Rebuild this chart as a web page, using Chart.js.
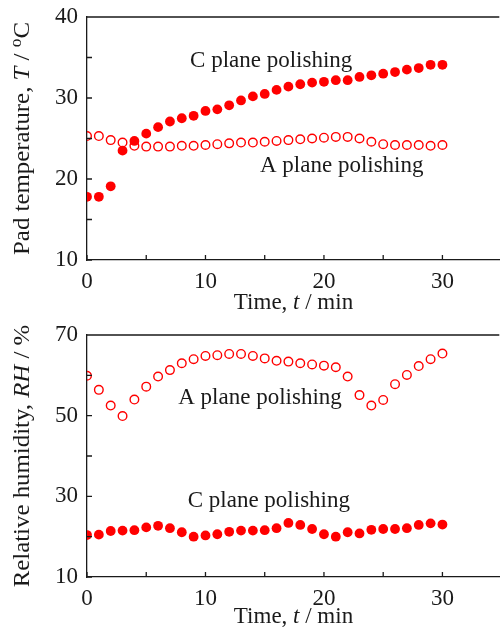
<!DOCTYPE html>
<html>
<head>
<meta charset="utf-8">
<script src="https://cdn.jsdelivr.net/npm/chart.js@4/dist/chart.umd.min.js"></script>
<style>
  body { margin: 0; background: #fff; overflow: hidden; }
  .box { position: absolute; left: 0; width: 505px; }
  #topBox { top: 0; height: 320px; }
  #botBox { top: 320px; height: 309px; }
</style>
</head>
<body>
<div class="box" id="topBox"><canvas id="tempChart"></canvas></div>
<div class="box" id="botBox"><canvas id="rhChart"></canvas></div>
<script>
// time in minutes
const time = [0, 1, 2, 3, 4, 5, 6, 7, 8, 9, 10, 11, 12, 13, 14, 15, 16, 17, 18, 19, 20, 21, 22, 23, 24, 25, 26, 27, 28, 29, 30];

// pad temperature (degC)
const tempC = [17.8, 17.8, 19.1, 23.5, 24.7, 25.6, 26.4, 27.1, 27.5, 27.8, 28.4, 28.6, 29.1, 29.7, 30.2, 30.5, 31.0, 31.4, 31.7, 31.9, 32.0, 32.2, 32.2, 32.6, 32.8, 33.0, 33.2, 33.5, 33.7, 34.1, 34.1];
const tempA = [25.3, 25.3, 24.8, 24.5, 24.1, 24.0, 24.0, 24.0, 24.1, 24.1, 24.2, 24.3, 24.4, 24.5, 24.5, 24.6, 24.7, 24.8, 24.9, 25.0, 25.1, 25.2, 25.2, 25.0, 24.6, 24.3, 24.2, 24.2, 24.2, 24.1, 24.2];

// relative humidity (%)
const rhA = [59.9, 56.4, 52.5, 49.9, 54.0, 57.2, 59.7, 61.3, 63.0, 64.0, 64.8, 65.0, 65.3, 65.3, 64.8, 64.2, 63.6, 63.4, 63.0, 62.7, 62.4, 62.0, 59.7, 55.1, 52.5, 53.9, 57.8, 60.1, 62.3, 64.0, 65.4];
const rhC = [20.4, 20.5, 21.4, 21.5, 21.6, 22.3, 22.7, 22.1, 21.1, 20.0, 20.3, 20.6, 21.2, 21.5, 21.5, 21.6, 22.1, 23.4, 22.9, 21.9, 20.6, 20.0, 21.1, 20.8, 21.7, 21.9, 21.9, 22.1, 22.9, 23.3, 23.0];

// labelled ticks
const timeLabels = [0, 10, 20, 30];
const tempLabels = [10, 20, 30, 40];
const rhLabels = [10, 30, 50, 70];

// in-plot labels, placed in data units
const tempNotes = [
  { text: 'C plane polishing', x: 8.7, y: 34.6 },
  { text: 'A plane polishing', x: 14.6, y: 21.6 }
];
const rhNotes = [
  { text: 'A plane polishing', x: 7.7, y: 54.5 },
  { text: 'C plane polishing', x: 8.5, y: 28.9 }
];

const RED = '#ff0000';
const INK = '#1a1a1a';
const FONT = 'Liberation Serif';

Chart.defaults.font.family = FONT;
Chart.defaults.font.size = 23;
Chart.defaults.color = INK;

function xy(ys) {
  return time.map((t, i) => ({ x: t, y: ys[i] }));
}

function drawRich(ctx, parts, size) {
  let w = 0;
  const widths = parts.map(p => {
    ctx.font = (p.italic ? 'italic ' : '') + (p.sup ? size * 0.7 : size) + 'px "' + FONT + '"';
    const m = ctx.measureText(p.t).width;
    w += m;
    return m;
  });
  let x = -w / 2;
  parts.forEach((p, i) => {
    ctx.font = (p.italic ? 'italic ' : '') + (p.sup ? size * 0.7 : size) + 'px "' + FONT + '"';
    ctx.fillText(p.t, x, p.sup ? -size * 0.28 : 0);
    x += widths[i];
  });
}

const frame = {
  id: 'frame',
  afterDraw(chart, args, opts) {
    const { ctx, chartArea: a, scales: { x, y } } = chart;
    ctx.save();
    ctx.strokeStyle = INK;
    ctx.lineWidth = 1.3;
    ctx.beginPath();
    ctx.moveTo(a.left, a.top);
    ctx.lineTo(a.right, a.top);
    x.ticks.forEach(t => {
      const px = x.getPixelForValue(t.value);
      ctx.moveTo(px, a.bottom);
      ctx.lineTo(px, a.bottom - 5);
    });
    y.ticks.forEach(t => {
      const py = y.getPixelForValue(t.value);
      ctx.moveTo(a.left, py);
      ctx.lineTo(a.left + 5, py);
    });
    ctx.stroke();

    ctx.fillStyle = INK;
    ctx.textBaseline = 'middle';
    ctx.textAlign = 'left';
    ctx.font = '23px "' + FONT + '"';
    opts.notes.forEach(n => {
      ctx.fillText(n.text, x.getPixelForValue(n.x), y.getPixelForValue(n.y));
    });

    // x title centred on the visible part of the plot
    ctx.save();
    ctx.translate((a.left + 500) / 2, a.bottom + opts.xGap);
    drawRich(ctx, opts.xTitle, 23);
    ctx.restore();

    ctx.save();
    ctx.translate(23, (a.top + a.bottom) / 2);
    ctx.rotate(-Math.PI / 2);
    ctx.scale(1.08, 1);
    drawRich(ctx, opts.yTitle, 23);
    ctx.restore();

    ctx.restore();
  }
};

function makeChart(id, cfg) {
  return new Chart(document.getElementById(id), {
    type: 'scatter',
    data: {
      datasets: [{
        data: xy(cfg.open),
        pointStyle: 'circle',
        pointRadius: 4.3,
        pointBorderWidth: 1.4,
        borderColor: RED,
        backgroundColor: 'rgba(255,255,255,0)'
      }, {
        data: xy(cfg.filled),
        pointStyle: 'circle',
        pointRadius: 4.9,
        pointBorderWidth: 0,
        borderColor: RED,
        backgroundColor: RED
      }]
    },
    options: {
      responsive: true,
      maintainAspectRatio: false,
      animation: false,
      layout: { padding: { top: cfg.top, right: 0, left: 0, bottom: 0 } },
      plugins: {
        legend: { display: false },
        tooltip: { enabled: false },
        frame: { notes: cfg.notes, xTitle: cfg.xTitle, yTitle: cfg.yTitle, xGap: cfg.xGap }
      },
      scales: {
        x: {
          type: 'linear',
          min: 0,
          max: 34.8,
          grid: { display: false, drawTicks: false },
          border: { display: true, color: INK, width: 1.3 },
          ticks: {
            stepSize: 5,
            includeBounds: false,
            autoSkip: false,
            maxRotation: 0,
            padding: 8,
            callback: v => timeLabels.includes(v) ? String(v) : ''
          },
          afterFit: s => { s.height = cfg.xHeight; s.paddingLeft = 0; s.paddingRight = 0; }
        },
        y: {
          min: cfg.min,
          max: cfg.max,
          grid: { display: false, drawTicks: false },
          border: { display: true, color: INK, width: 1.3 },
          ticks: {
            stepSize: cfg.step,
            includeBounds: false,
            autoSkip: false,
            padding: 9,
            callback: v => cfg.labels.includes(v) ? String(v) : ''
          },
          afterFit: s => { s.width = 87; s.paddingTop = 0; s.paddingBottom = 0; }
        }
      }
    },
    plugins: [frame]
  });
}

const timeTitle = [{ t: 'Time, ' }, { t: 't', italic: true }, { t: ' / min' }];

makeChart('tempChart', {
  open: tempA, filled: tempC, notes: tempNotes,
  min: 10, max: 40, step: 5, labels: tempLabels,
  top: 17, xHeight: 60, xGap: 43,
  xTitle: timeTitle,
  yTitle: [{ t: 'Pad temperature, ' }, { t: 'T', italic: true }, { t: ' / ' }, { t: 'o', sup: true }, { t: 'C' }]
});

makeChart('rhChart', {
  open: rhA, filled: rhC, notes: rhNotes,
  min: 10, max: 70, step: 10, labels: rhLabels,
  top: 15, xHeight: 52, xGap: 40,
  xTitle: timeTitle,
  yTitle: [{ t: 'Relative humidity, ' }, { t: 'RH', italic: true }, { t: ' / %' }]
});
</script>
</body>
</html>
